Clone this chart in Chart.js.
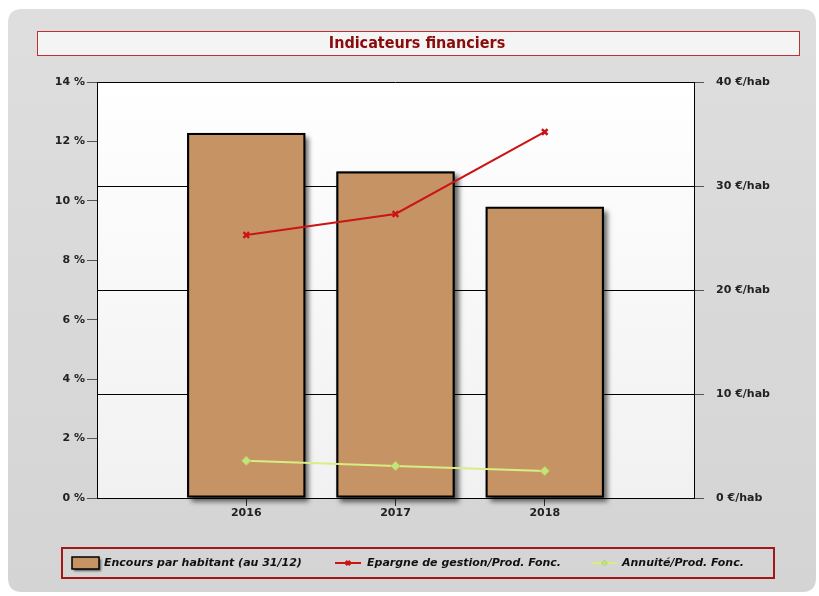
<!DOCTYPE html>
<html>
<head>
<meta charset="utf-8">
<script src="https://cdn.jsdelivr.net/npm/chart.js@4.4.1/dist/chart.umd.min.js"></script>
<style>
html, body { margin: 0; padding: 0; background: #fff; }
canvas { display: block; }
</style>
</head>
<body>
<canvas id="chart" width="819" height="596"></canvas>
<script>
'use strict';

// Chart data
const years = ['2016', '2017', '2018'];
const encours = [35.1, 31.4, 28.0];      // €/hab (right axis)
const epargne = [8.85, 9.56, 12.32];     // % (left axis)
const annuite = [1.25, 1.08, 0.91];      // % (left axis)
const seriesLabels = ['Encours par habitant (au 31/12)', 'Epargne de gestion/Prod. Fonc.', 'Annuité/Prod. Fonc.'];
const chartTitle = 'Indicateurs financiers';
const pctUnit = ' %';
const eurUnit = ' €/hab';

// empty slot on each side of the years
const xLabels = ['', ...years, ''];
const pad = arr => [null, ...arr, null];

const axisFont = { family: 'DejaVu Sans', size: 11, weight: 'bold' };

function roundRect(ctx, x, y, w, h, r) {
    ctx.beginPath();
    ctx.moveTo(x + r, y);
    ctx.lineTo(x + w - r, y);
    ctx.quadraticCurveTo(x + w, y, x + w, y + r);
    ctx.lineTo(x + w, y + h - r);
    ctx.quadraticCurveTo(x + w, y + h, x + w - r, y + h);
    ctx.lineTo(x + r, y + h);
    ctx.quadraticCurveTo(x, y + h, x, y + h - r);
    ctx.lineTo(x, y + r);
    ctx.quadraticCurveTo(x, y, x + r, y);
    ctx.closePath();
}

function setShadow(ctx, off, blur) {
    ctx.shadowColor = 'rgba(0,0,0,0.6)';
    ctx.shadowBlur = blur;
    ctx.shadowOffsetX = off;
    ctx.shadowOffsetY = off;
}

const framePlugin = {
    id: 'frame',
    beforeDraw(chart) {
        const ctx = chart.ctx;
        const area = chart.chartArea;
        ctx.save();
        ctx.fillStyle = '#fff';
        ctx.fillRect(0, 0, chart.width, chart.height);

        // grey panel
        const g = ctx.createLinearGradient(0, 9, 0, 592);
        g.addColorStop(0, '#dedede');
        g.addColorStop(1, '#d4d4d4');
        roundRect(ctx, 8, 9, 808, 583, 14);
        ctx.fillStyle = g;
        ctx.fill();

        // title box
        ctx.fillStyle = '#f4f4f4';
        ctx.fillRect(37.5, 31.5, 762, 24);
        ctx.strokeStyle = '#c03030';
        ctx.lineWidth = 1;
        ctx.strokeRect(37.5, 31.5, 762, 24);
        ctx.fillStyle = '#8b0a0a';
        ctx.font = 'bold 16px "DejaVu Sans Condensed", "DejaVu Sans"';
        ctx.textAlign = 'center';
        ctx.textBaseline = 'middle';
        ctx.fillText(chartTitle, 417, 44);

        // plot background
        const pg = ctx.createLinearGradient(0, area.top, 0, area.bottom);
        pg.addColorStop(0, '#ffffff');
        pg.addColorStop(1, '#f1f1f1');
        ctx.fillStyle = pg;
        ctx.fillRect(area.left, area.top, area.right - area.left, area.bottom - area.top);
        ctx.restore();
    },
    beforeDatasetDraw(chart, args) {
        if (chart.data.datasets[args.index].type !== 'bar') return;
        // drop shadows under the bars (the bar element clips its own drawing)
        const ctx = chart.ctx;
        ctx.save();
        setShadow(ctx, 4, 5);
        ctx.fillStyle = '#000';
        args.meta.data.forEach(bar => {
            const p = bar.getProps(['x', 'y', 'base', 'width'], true);
            if (p.y == null || isNaN(p.y)) return;
            ctx.fillRect(p.x - p.width / 2, p.y, p.width, p.base - p.y);
        });
        ctx.restore();
    },
    afterDraw(chart) {
        const ctx = chart.ctx;
        const ds = chart.data.datasets;
        ctx.save();
        // legend box
        ctx.strokeStyle = '#a01818';
        ctx.lineWidth = 2;
        ctx.strokeRect(62, 548, 712, 30);

        ctx.font = 'italic bold 11px "DejaVu Sans"';
        ctx.textAlign = 'left';
        ctx.textBaseline = 'middle';
        const cy = 563;

        // bar swatch
        ctx.save();
        setShadow(ctx, 2, 2);
        ctx.fillStyle = ds[0].backgroundColor;
        ctx.fillRect(72, 557, 27, 12);
        ctx.restore();
        ctx.strokeStyle = '#000';
        ctx.lineWidth = 1.5;
        ctx.strokeRect(72, 557, 27, 12);
        ctx.fillStyle = '#111';
        ctx.fillText(ds[0].label, 104, cy);

        // line swatches
        const lineItems = [
            { d: ds[1], x0: 335, x1: 361, tx: 367 },
            { d: ds[2], x0: 592, x1: 617, tx: 622 }
        ];
        lineItems.forEach(it => {
            ctx.strokeStyle = it.d.borderColor;
            ctx.lineWidth = 2;
            ctx.beginPath();
            ctx.moveTo(it.x0, cy);
            ctx.lineTo(it.x1, cy);
            ctx.stroke();
            ctx.fillStyle = it.d.pointBackgroundColor;
            ctx.strokeStyle = it.d.pointBorderColor;
            ctx.lineWidth = it.d.pointBorderWidth;
            Chart.helpers.drawPoint(ctx, {
                pointStyle: it.d.pointStyle,
                radius: 3,
                borderWidth: it.d.pointBorderWidth,
                rotation: 0
            }, (it.x0 + it.x1) / 2, cy);
            ctx.fillStyle = '#111';
            ctx.fillText(it.d.label, it.tx, cy);
        });
        ctx.restore();
    }
};

new Chart(document.getElementById('chart'), {
    data: {
        labels: xLabels,
        datasets: [{
            type: 'bar',
            label: seriesLabels[0],
            data: pad(encours),
            yAxisID: 'yEur',
            backgroundColor: '#c69464',
            borderColor: '#000',
            borderWidth: 2,
            borderSkipped: false,
            barPercentage: 0.99,
            categoryPercentage: 0.8,
            clip: false,
            order: 2
        }, {
            type: 'line',
            label: seriesLabels[1],
            data: pad(epargne),
            yAxisID: 'yPct',
            borderColor: '#cc1414',
            borderWidth: 2,
            pointStyle: 'crossRot',
            pointRadius: 4,
            pointBorderWidth: 2.5,
            pointBackgroundColor: '#cc1414',
            pointBorderColor: '#cc1414',
            order: 1
        }, {
            type: 'line',
            label: seriesLabels[2],
            data: pad(annuite),
            yAxisID: 'yPct',
            borderColor: '#d6ee84',
            borderWidth: 2,
            pointStyle: 'rectRot',
            pointRadius: 4.5,
            pointBorderWidth: 1,
            pointBackgroundColor: '#c4e47a',
            pointBorderColor: '#b4d466',
            order: 0
        }]
    },
    options: {
        responsive: false,
        animation: false,
        layout: { padding: { top: 82, left: 0, right: 0, bottom: 0 } },
        plugins: {
            legend: { display: false },
            title: { display: false },
            tooltip: { enabled: false }
        },
        scales: {
            x: {
                offset: false,
                afterFit: s => { s.height = 98; },
                grid: {
                    offset: false,
                    drawOnChartArea: false,
                    tickLength: 8,
                    tickColor: c => (c.tick && c.tick.label) ? '#333' : 'transparent'
                },
                border: { color: '#000', width: 1 },
                ticks: { font: axisFont, color: '#222', padding: 1, autoSkip: false, maxRotation: 0 }
            },
            yPct: {
                position: 'left',
                min: 0,
                max: 14,
                afterFit: s => { s.width = 97; },
                grid: { drawOnChartArea: false, tickLength: 10, tickColor: '#555' },
                border: { color: '#000', width: 1 },
                ticks: {
                    stepSize: 2,
                    font: axisFont,
                    color: '#222',
                    padding: 2,
                    callback: v => v + pctUnit
                }
            },
            yEur: {
                position: 'right',
                min: 0,
                max: 40,
                afterFit: s => { s.width = 125; },
                grid: { drawOnChartArea: true, color: '#000', lineWidth: 1, tickLength: 10, tickColor: '#555' },
                border: { color: '#000', width: 1 },
                ticks: {
                    stepSize: 10,
                    font: axisFont,
                    color: '#222',
                    padding: 12,
                    callback: v => v + eurUnit
                }
            }
        }
    },
    plugins: [framePlugin]
});
</script>
</body>
</html>
